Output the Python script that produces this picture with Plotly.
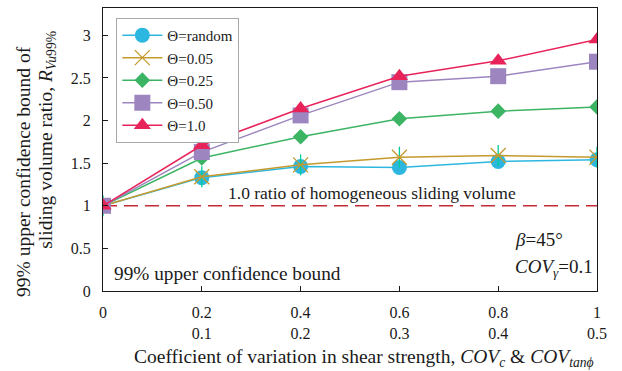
import plotly.graph_objects as go

# Coefficient of variation (COV_c on the primary scale, COV_tanphi = half of it)
cov_c = [0, 0.2, 0.4, 0.6, 0.8, 1.0]
cov_tan_labels = ["", "0.1", "0.2", "0.3", "0.4", "0.5"]
cov_c_labels = ["0", "0.2", "0.4", "0.6", "0.8", "1"]
y_ticks = [0, 0.5, 1, 1.5, 2, 2.5, 3]
y_tick_labels = ["0", "0.5", "1", "1.5", "2", "2.5", "3"]

# 99% upper confidence bound of sliding volume ratio for each correlation length
r_random = [1.0, 1.33, 1.46, 1.45, 1.52, 1.54]
r_005 = [1.0, 1.34, 1.48, 1.57, 1.59, 1.57]
r_025 = [1.0, 1.56, 1.81, 2.02, 2.11, 2.16]
r_050 = [1.0, 1.63, 2.06, 2.45, 2.52, 2.69]
r_100 = [1.0, 1.71, 2.14, 2.52, 2.70, 2.95]
homogeneous_ratio = 1.0

FONT = "Liberation Serif"
INK = "#1a1a1a"

fig = go.Figure()

# homogeneous reference line
fig.add_trace(go.Scatter(
    x=[cov_c[0], cov_c[-1]], y=[homogeneous_ratio, homogeneous_ratio],
    mode="lines", showlegend=False, hoverinfo="skip",
    line=dict(color="#C42A34", width=1.5, dash="14px,7px"),
))

series = [
    ("Θ=random", r_random, "#2DB7E0", "circle", 15),
    ("Θ=0.05", r_005, "#C49A2E", "x-thin-open", 15),
    ("Θ=0.25", r_025, "#3BB463", "diamond", 12),
    ("Θ=0.50", r_050, "#9D85BF", "square", 16),
    ("Θ=1.0", r_100, "#E8235A", "triangle-up", 15),
]

for name, vals, col, sym, size in series:
    if sym == "x-thin-open":
        # vertical stroke that completes the asterisk marker
        fig.add_trace(go.Scatter(
            x=cov_c, y=vals, mode="markers", showlegend=False, hoverinfo="skip",
            marker=dict(symbol="line-ns-open", size=size, line=dict(color=col, width=1.3)),
        ))
        fig.add_trace(go.Scatter(
            x=cov_c, y=vals, name=name, mode="lines+markers",
            line=dict(color=col, width=1.5),
            marker=dict(symbol="x-thin-open", size=size, line=dict(color=col, width=1.3)),
        ))
    else:
        fig.add_trace(go.Scatter(
            x=cov_c, y=vals, name=name, mode="lines+markers",
            line=dict(color=col, width=1.5),
            marker=dict(symbol=sym, size=size, color=col, line=dict(width=0)),
        ))

ticktext = [a + "<br>" + b if b else a for a, b in zip(cov_c_labels, cov_tan_labels)]

fig.update_layout(
    width=622, height=371,
    margin=dict(l=103, r=25, t=8, b=80),
    paper_bgcolor="white", plot_bgcolor="white",
    font=dict(family=FONT, size=16, color=INK),
    showlegend=True,
    legend=dict(
        x=0.027, y=0.965, xanchor="left", yanchor="top",
        bordercolor="#A8A8A8", borderwidth=1, bgcolor="white",
        font=dict(family=FONT, size=15, color=INK),
        tracegroupgap=0, itemwidth=40,
    ),
    xaxis=dict(
        range=[0, 1], tickvals=cov_c, ticktext=ticktext,
        ticks="inside", ticklen=5, tickcolor=INK,
        showline=True, linecolor=INK, linewidth=1.3, mirror=True,
        showgrid=False, zeroline=False,
        tickfont=dict(family=FONT, size=16, color=INK),
        ticklabelstandoff=7,
    ),
    yaxis=dict(
        range=[0, 3.32], tickvals=y_ticks, ticktext=y_tick_labels,
        ticks="inside", ticklen=5, tickcolor=INK,
        showline=True, linecolor=INK, linewidth=1.3, mirror=True,
        showgrid=False, zeroline=False,
        tickfont=dict(family=FONT, size=16, color=INK),
        ticklabelstandoff=8,
    ),
)

# axis titles
fig.add_annotation(
    x=0.529, y=-0.235, xref="paper", yref="paper", xanchor="center", yanchor="middle",
    text="Coefficient of variation in shear strength, <i>COV<sub>c</sub></i> &amp; <i>COV<sub>tanϕ</sub></i>",
    showarrow=False, font=dict(family=FONT, size=19.5, color=INK),
)
fig.add_annotation(
    x=-0.162, y=0.424, xref="paper", yref="paper", xanchor="center", yanchor="middle",
    text="99% upper confidence bound of", textangle=-90,
    showarrow=False, font=dict(family=FONT, size=19.5, color=INK),
)
fig.add_annotation(
    x=-0.115, y=0.535, xref="paper", yref="paper", xanchor="center", yanchor="middle",
    text="sliding volume ratio, <i>R<sub>Vu</sub></i><sub>99%</sub>", textangle=-90,
    showarrow=False, font=dict(family=FONT, size=19.5, color=INK),
)

# in-plot notes
fig.add_annotation(x=0.545, y=1.15, xref="x", yref="y", xanchor="center", yanchor="middle",
                   text="1.0 ratio of homogeneous sliding volume", showarrow=False,
                   font=dict(family=FONT, size=17.5, color=INK))
fig.add_annotation(x=0.018, y=0.21, xref="x", yref="y", xanchor="left", yanchor="middle",
                   text="99% upper confidence bound", showarrow=False,
                   font=dict(family=FONT, size=19.3, color=INK))
fig.add_annotation(x=0.83, y=0.6, xref="x", yref="y", xanchor="left", yanchor="middle",
                   text="<i>β</i>=45°", showarrow=False,
                   font=dict(family=FONT, size=19, color=INK))
fig.add_annotation(x=0.83, y=0.27, xref="x", yref="y", xanchor="left", yanchor="middle",
                   text="<i>COV<sub>γ</sub></i>=0.1", showarrow=False,
                   font=dict(family=FONT, size=19, color=INK))

fig.write_html("out.html")
